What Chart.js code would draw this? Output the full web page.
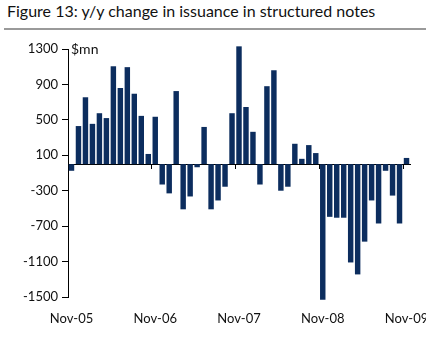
<!DOCTYPE html>
<html>
<head>
<meta charset="utf-8">
<script src="https://cdn.jsdelivr.net/npm/chart.js@4.4.1/dist/chart.umd.min.js"></script>
<style>
  body { margin: 0; background: #fff; }
  #wrap { position: relative; width: 426px; height: 341px; overflow: hidden; }
  #title {
    position: absolute; left: 7px; top: 1px;
    font-family: Lato, sans-serif; font-size: 16px; color: #111;
    white-space: nowrap;
  }
  #rule { position: absolute; left: 4px; top: 28px; width: 428px; height: 2px; background: #9a9a9a; }
  canvas { position: absolute; left: 0; top: 0; }
</style>
</head>
<body>
<div id="wrap">
  <div id="title">Figure 13: y/y change in issuance in structured notes</div>
  <div id="rule"></div>
  <canvas id="chart" width="445" height="341"></canvas>
</div>
<script>
// months Nov-05 .. Nov-09
const monthNames = ['Nov', 'Dec', 'Jan', 'Feb', 'Mar', 'Apr', 'May', 'Jun', 'Jul', 'Aug', 'Sep', 'Oct'];
const startYear = 5;
const months = [];
for (let i = 0; i < 49; i++) {
  const yr = startYear + Math.floor((i + 10) / 12);
  months.push(monthNames[i % 12] + '-' + String(yr).padStart(2, '0'));
}

// y/y change, $mn
const changeValues = [
  -75, 430, 755, 455, 575, 520, 1105, 860, 1095, 795, 545, 115,
  535, -230, -330, 825, -510, -365, -35, 420, -510, -410, -255, 575,
  1330, 645, 365, -230, 880, 1060, -300, -255, 230, 60, 215, 125,
  -1530, -595, -605, -605, -1110, -1245, -875, -410, -670, -75, -355, -670,
  70
];

const yTicks = [1300, 900, 500, 100, -300, -700, -1100, -1500];

const barColor = '#0c2d5e';
const font = { family: 'Lato, sans-serif', size: 13 };

// "$mn" unit label next to the top of the axis
const unitLabel = {
  id: 'unitLabel',
  afterDraw(chart) {
    const { ctx, chartArea, scales } = chart;
    ctx.save();
    ctx.font = '14px Lato, sans-serif';
    ctx.fillStyle = '#111';
    ctx.textBaseline = 'middle';
    ctx.fillText('$mn', chartArea.left + 3, scales.y.getPixelForValue(1300));
    ctx.restore();
  }
};

new Chart(document.getElementById('chart'), {
  type: 'bar',
  data: {
    labels: months,
    datasets: [{
      data: changeValues,
      backgroundColor: barColor,
      borderWidth: 0,
      categoryPercentage: 1,
      barPercentage: 0.78,
      clip: false,
      xAxisID: 'x',
      yAxisID: 'y'
    }]
  },
  options: {
    responsive: false,
    animation: false,
    layout: { padding: { left: 0, right: 35, top: 49, bottom: 0 } },
    plugins: {
      legend: { display: false },
      tooltip: { enabled: false }
    },
    scales: {
      // axis line through zero, with year tick marks
      x: {
        type: 'category',
        position: { y: 0 },
        offset: true,
        border: { display: true, color: '#000', width: 1 },
        grid: {
          offset: true,
          drawOnChartArea: false,
          drawTicks: true,
          tickLength: 4,
          color: ctx => (ctx.index !== undefined && ctx.index % 12 === 0) ? '#000' : 'rgba(0,0,0,0)'
        },
        ticks: { display: false }
      },
      // labels along the bottom
      x2: {
        type: 'category',
        position: 'bottom',
        offset: true,
        border: { display: false },
        grid: { display: false, drawTicks: false },
        ticks: {
          autoSkip: false,
          maxRotation: 0,
          minRotation: 0,
          padding: 14,
          color: '#111',
          font: font,
          callback: (v, i) => (i % 12 === 0 ? months[i] : '')
        },
        afterFit: scale => { scale.height = 44; }
      },
      y: {
        min: -1500,
        max: 1300,
        border: { display: true, color: '#000', width: 1 },
        grid: { drawOnChartArea: false, drawTicks: true, tickLength: 6, color: '#000' },
        afterBuildTicks: scale => { scale.ticks = yTicks.map(v => ({ value: v })); },
        ticks: { padding: 4, color: '#111', font: font, callback: v => String(v) },
        afterFit: scale => { scale.width = 68; }
      }
    }
  },
  plugins: [unitLabel]
});
</script>
</body>
</html>
